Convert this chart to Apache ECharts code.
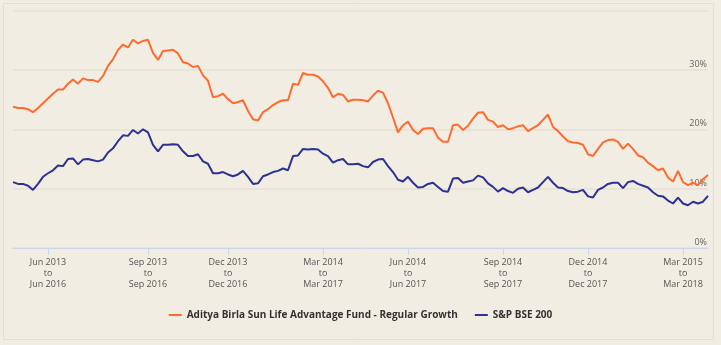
<!DOCTYPE html>
<html>
<head>
<meta charset="utf-8">
<script src="https://cdn.jsdelivr.net/npm/echarts@6/dist/echarts.min.js"></script>
<style>
html,body{margin:0;padding:0;background:#f1ede3;}
#c{width:721px;height:345px;}
</style>
</head>
<body>
<div id="c"></div>
<script>
var fundName = 'Aditya Birla Sun Life Advantage Fund - Regular Growth';
var benchName = 'S&P BSE 200';

var fundValues = [23.8,23.6,23.6,23.4,22.9,23.6,24.4,25.2,26.0,26.7,26.7,27.7,28.4,27.7,28.6,28.3,28.3,28.0,29.0,30.7,
31.8,33.4,34.3,33.8,35.1,34.5,34.9,35.1,32.9,31.7,33.2,33.3,33.4,32.8,31.3,31.1,30.5,30.7,29.1,28.2,
25.4,25.6,26.0,25.1,24.4,24.6,24.9,23.1,21.7,21.5,22.9,23.4,24.1,24.6,24.9,24.9,27.7,27.5,29.5,29.2,
29.2,28.9,28.1,27.0,25.4,26.0,25.8,24.7,25.0,25.0,24.9,24.7,25.7,26.5,26.2,24.4,22.0,19.5,20.7,21.3,
19.9,19.2,20.1,20.2,20.2,18.6,17.9,17.9,20.7,20.8,19.9,20.6,21.8,22.8,22.9,21.6,21.3,20.4,20.7,20.0,
20.2,20.5,20.7,19.7,20.2,20.7,21.6,22.5,20.4,19.7,18.8,18.0,17.8,17.7,17.4,15.8,15.5,16.7,17.8,18.2,
18.3,17.9,16.7,17.6,16.7,15.6,15.3,14.4,13.8,13.1,13.4,11.9,11.2,13.0,11.1,10.6,11.0,10.6,11.6,12.3];

var benchValues = [11.1,10.8,10.8,10.5,9.8,10.8,12.0,12.6,13.1,13.9,13.8,15.0,15.1,14.1,14.9,15.0,14.8,14.6,14.9,16.1,
16.8,18.0,19.0,18.9,19.9,19.3,20.0,19.5,17.4,16.3,17.4,17.4,17.5,17.4,16.3,15.5,15.5,15.8,14.6,14.2,
12.6,12.6,12.8,12.4,12.1,12.4,13.0,12.0,10.8,10.9,12.1,12.4,12.8,13.0,13.4,13.1,15.5,15.6,16.7,16.6,
16.7,16.6,15.9,15.5,14.4,14.8,15.0,14.1,14.1,14.2,13.8,13.6,14.5,14.9,15.0,13.8,12.8,11.5,11.2,12.0,
11.0,10.2,10.3,10.8,11.0,10.3,9.6,9.5,11.7,11.8,11.0,11.2,11.4,12.2,11.9,10.9,10.3,9.5,10.1,9.6,
9.3,10.0,10.2,9.4,9.8,10.2,11.1,12.0,11.0,10.2,10.1,9.6,9.4,9.5,9.8,8.7,8.5,9.8,10.2,10.8,
11.0,11.0,10.1,11.1,11.3,10.8,10.5,10.2,9.4,8.8,8.7,8.0,7.5,8.5,7.5,7.2,7.8,7.5,7.8,8.8];

var tickIndices = [7, 27, 43, 62, 79, 98, 115, 134];
var tickLabels = ['Jun 2013\nto\nJun 2016','Sep 2013\nto\nSep 2016','Dec 2013\nto\nDec 2016','Mar 2014\nto\nMar 2017',
'Jun 2014\nto\nJun 2017','Sep 2014\nto\nSep 2017','Dec 2014\nto\nDec 2017','Mar 2015\nto\nMar 2018'];
var yTicks = {min: 0, max: 40, interval: 10};

var categories = [];
for (var i = 0; i < fundValues.length; i++) {
  var k = tickIndices.indexOf(i);
  categories.push(k >= 0 ? tickLabels[k] : 'p' + i);
}
function isTick(idx) { return tickIndices.indexOf(idx) >= 0; }

var chart = echarts.init(document.getElementById('c'));
chart.setOption({
  backgroundColor: '#f1ede3',
  animation: false,
  textStyle: {fontFamily: 'Open Sans'},
  graphic: [{
    type: 'rect', z: -1, silent: true,
    shape: {x: 3.5, y: 3.5, width: 710, height: 336},
    style: {fill: 'none', stroke: '#e2ded4', lineWidth: 1}
  }],
  grid: {left: 13, right: 13, top: 10.7, bottom: 97, containLabel: false},
  legend: {
    left: 'center', top: 305,
    itemWidth: 13, itemHeight: 2, itemGap: 17,
    icon: 'rect',
    textStyle: {fontFamily: 'Open Sans', fontWeight: 'bold', fontSize: 10, color: '#333'},
    data: [fundName, benchName]
  },
  xAxis: {
    type: 'category',
    data: categories,
    boundaryGap: false,
    axisLine: {lineStyle: {color: '#ccd6eb', width: 1}},
    axisTick: {interval: function(idx){ return isTick(idx); }, length: 7, lineStyle: {color: '#ccd6eb'}},
    axisLabel: {
      interval: function(idx){ return isTick(idx); },
      color: '#555', fontSize: 9, lineHeight: 11, margin: 9,
      fontFamily: 'Open Sans'
    },
    splitLine: {show: false}
  },
  yAxis: {
    type: 'value',
    position: 'right',
    min: yTicks.min, max: yTicks.max, interval: yTicks.interval,
    axisLine: {show: false},
    axisTick: {show: false},
    axisLabel: {
      inside: true, margin: 1, color: '#666', fontSize: 9,
      verticalAlign: 'bottom', padding: [0, 0, 1, 0],
      formatter: function(v){ return v === 40 ? '' : v + '%'; }
    },
    splitLine: {lineStyle: {color: '#e4e0d6', width: 1.5}}
  },
  series: [
    {name: fundName, type: 'line', data: fundValues, showSymbol: false, symbol: 'none',
     lineStyle: {color: '#ff6a2f', width: 2}, itemStyle: {color: '#ff6a2f'}},
    {name: benchName, type: 'line', data: benchValues, showSymbol: false, symbol: 'none',
     lineStyle: {color: '#2e3192', width: 2}, itemStyle: {color: '#2e3192'}}
  ]
});
</script>
</body>
</html>
